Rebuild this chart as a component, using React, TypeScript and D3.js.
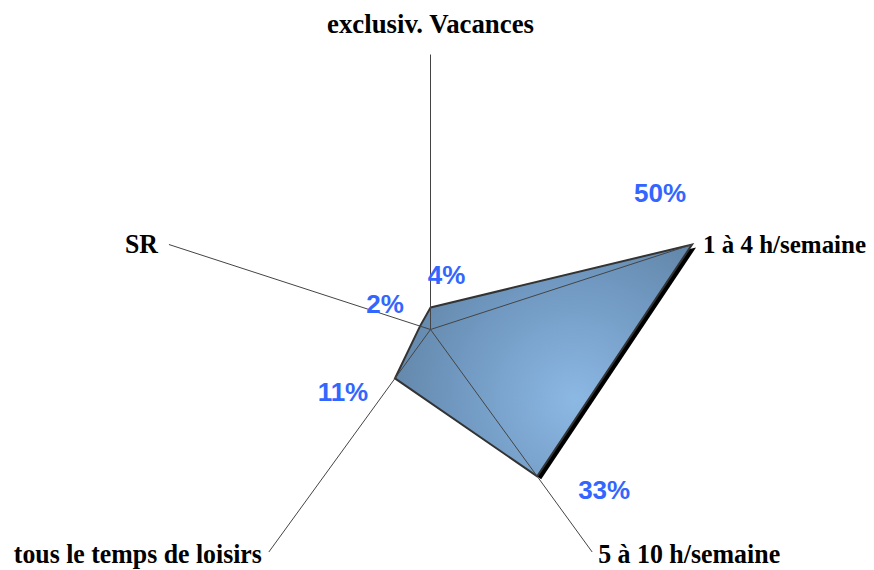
import React from "react";
import * as d3 from "d3";

const categories = ["exclusiv. Vacances", "1 à 4 h/semaine", "5 à 10 h/semaine", "tous le temps de loisirs", "SR"];
const values = [0.04, 0.5, 0.33, 0.11, 0.02];
const valueLabels = ["4%", "50%", "33%", "11%", "2%"];

// label placement (offsets from axis end / data point), like Excel put them
const catAnchor = ["middle", "start", "start", "end", "end"];
const catOffset = [[0, -22], [11, 8], [6, 11], [-7, 11], [-11, 8]];
const catWidth = [207, 163, 182, 248, 33];
const catSize = [26.5, 25, 26.5, 26.5, 26.5];
const valOffset = [[16, -24], [-32, -43], [67, 23], [-52, 23], [-35, -13]];

const width = 874;
const height = 570;
const cx = 430.5;
const cy = 329.5;
const R = 275;

const App = () => {
    const r = d3.scaleLinear().domain([0, 0.5]).range([0, R]);
    const angle = d3.scaleLinear().domain([0, categories.length]).range([0, 2 * Math.PI]);

    const pt = (i: number, rad: number) => {
        const a = angle(i);
        return [cx + rad * Math.sin(a), cy - rad * Math.cos(a)];
    };

    const pts = values.map((v, i) => pt(i, r(v)));
    const line = d3.line().curve(d3.curveLinearClosed);
    const shadow = pts.map(p => [p[0] + 4, p[1] + 3]);

    return (
        <svg width={width} height={height} style={{position: "absolute", left: 0, top: 0}}>
            <defs>
                <radialGradient id="fillGrad" gradientUnits="userSpaceOnUse" cx={575} cy={400} r={240}>
                    <stop offset="0%" stopColor="#8cb8e4"/>
                    <stop offset="50%" stopColor="#7098c0"/>
                    <stop offset="100%" stopColor="#5a7a99"/>
                </radialGradient>
            </defs>
            <rect width={width} height={height} fill="#fff"/>
            <path d={line(shadow as any)!} fill="#000"/>
            <path d={line(pts as any)!} fill="url(#fillGrad)" stroke="#333" strokeWidth={2} strokeLinejoin="miter"/>
            {categories.map((c, i) => {
                const e = pt(i, R);
                return <line key={c} x1={cx} y1={cy} x2={e[0]} y2={e[1]} stroke="#444" strokeWidth={1}/>;
            })}
            {categories.map((c, i) => {
                const e = pt(i, R);
                return (
                    <text key={"l" + c} x={e[0] + catOffset[i][0]} y={e[1] + catOffset[i][1]}
                          textAnchor={catAnchor[i] as any} fontFamily="Liberation Serif, Times New Roman, serif"
                          fontWeight="bold" fontSize={catSize[i]} fill="#000"
                          textLength={catWidth[i]} lengthAdjust="spacingAndGlyphs">{c}</text>
                );
            })}
            {valueLabels.map((t, i) => {
                const p = pts[i];
                return (
                    <text key={"v" + i} x={p[0] + valOffset[i][0]} y={p[1] + valOffset[i][1]}
                          textAnchor="middle" fontFamily="Liberation Sans, Arial, sans-serif"
                          fontWeight="bold" fontSize={26} fill="#3366ff">{t}</text>
                );
            })}
        </svg>
    );
};

export default App;
